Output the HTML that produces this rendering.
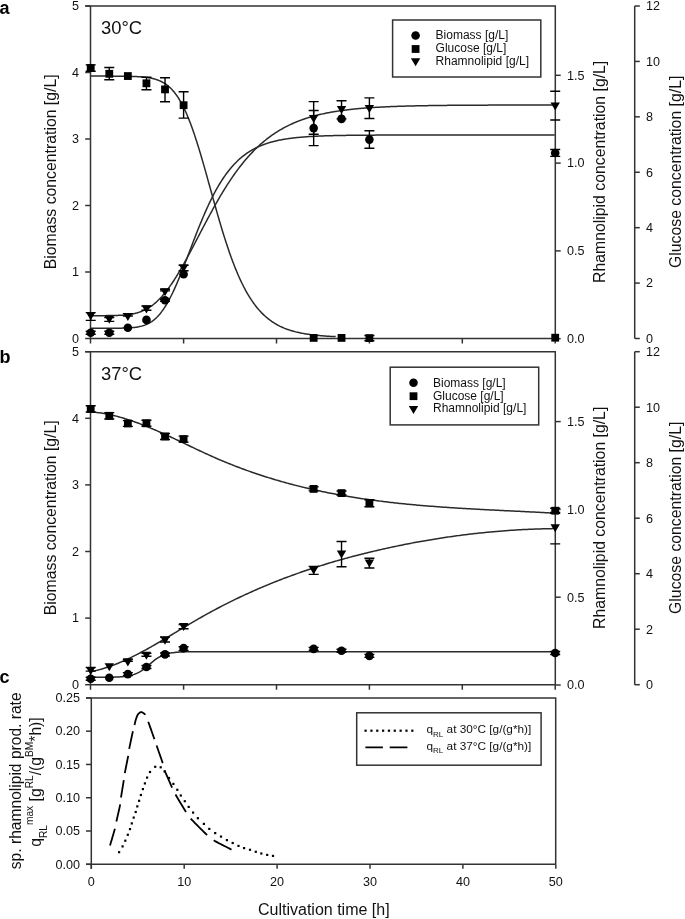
<!DOCTYPE html><html><head><meta charset="utf-8"><style>html,body{margin:0;padding:0;background:#fff;width:685px;height:919px;overflow:hidden}svg{display:block;filter:blur(0.35px)}</style></head><body><svg width="685" height="919" viewBox="0 0 685 919">
<rect width="685" height="919" fill="#fff"/>
<path d="M90.5,6 V343.5 M85.2,6 H555.3 V338.5 M90.5,338.5 H555.3" stroke="#333" stroke-width="1.5" fill="none"/>
<path d="M85.2,338.50 H90.5" stroke="#333" stroke-width="1.5"/>
<text x="79" y="342.80" text-anchor="end" font-size="12.6" font-family="'Liberation Sans', sans-serif" fill="#111">0</text>
<path d="M85.2,272.00 H90.5" stroke="#333" stroke-width="1.5"/>
<text x="79" y="276.30" text-anchor="end" font-size="12.6" font-family="'Liberation Sans', sans-serif" fill="#111">1</text>
<path d="M85.2,205.50 H90.5" stroke="#333" stroke-width="1.5"/>
<text x="79" y="209.80" text-anchor="end" font-size="12.6" font-family="'Liberation Sans', sans-serif" fill="#111">2</text>
<path d="M85.2,139.00 H90.5" stroke="#333" stroke-width="1.5"/>
<text x="79" y="143.30" text-anchor="end" font-size="12.6" font-family="'Liberation Sans', sans-serif" fill="#111">3</text>
<path d="M85.2,72.50 H90.5" stroke="#333" stroke-width="1.5"/>
<text x="79" y="76.80" text-anchor="end" font-size="12.6" font-family="'Liberation Sans', sans-serif" fill="#111">4</text>
<path d="M85.2,6.00 H90.5" stroke="#333" stroke-width="1.5"/>
<text x="79" y="10.30" text-anchor="end" font-size="12.6" font-family="'Liberation Sans', sans-serif" fill="#111">5</text>
<path d="M183.60,338.5 V343.5" stroke="#333" stroke-width="1.5"/>
<path d="M276.50,338.5 V343.5" stroke="#333" stroke-width="1.5"/>
<path d="M369.40,338.5 V343.5" stroke="#333" stroke-width="1.5"/>
<path d="M462.30,338.5 V343.5" stroke="#333" stroke-width="1.5"/>
<path d="M555.20,338.5 V343.5" stroke="#333" stroke-width="1.5"/>
<path d="M555.3,338.70 H560.7" stroke="#333" stroke-width="1.5"/>
<text x="567" y="343.00" font-size="12.6" font-family="'Liberation Sans', sans-serif" fill="#111">0.0</text>
<path d="M555.3,250.90 H560.7" stroke="#333" stroke-width="1.5"/>
<text x="567" y="255.20" font-size="12.6" font-family="'Liberation Sans', sans-serif" fill="#111">0.5</text>
<path d="M555.3,163.10 H560.7" stroke="#333" stroke-width="1.5"/>
<text x="567" y="167.40" font-size="12.6" font-family="'Liberation Sans', sans-serif" fill="#111">1.0</text>
<path d="M555.3,75.30 H560.7" stroke="#333" stroke-width="1.5"/>
<text x="567" y="79.60" font-size="12.6" font-family="'Liberation Sans', sans-serif" fill="#111">1.5</text>
<path d="M634.7,6 V338.5" stroke="#333" stroke-width="1.5"/>
<path d="M634.7,338.50 H639.8" stroke="#333" stroke-width="1.5"/>
<text x="646" y="342.80" font-size="12.6" font-family="'Liberation Sans', sans-serif" fill="#111">0</text>
<path d="M634.7,283.08 H639.8" stroke="#333" stroke-width="1.5"/>
<text x="646" y="287.38" font-size="12.6" font-family="'Liberation Sans', sans-serif" fill="#111">2</text>
<path d="M634.7,227.67 H639.8" stroke="#333" stroke-width="1.5"/>
<text x="646" y="231.97" font-size="12.6" font-family="'Liberation Sans', sans-serif" fill="#111">4</text>
<path d="M634.7,172.25 H639.8" stroke="#333" stroke-width="1.5"/>
<text x="646" y="176.55" font-size="12.6" font-family="'Liberation Sans', sans-serif" fill="#111">6</text>
<path d="M634.7,116.83 H639.8" stroke="#333" stroke-width="1.5"/>
<text x="646" y="121.13" font-size="12.6" font-family="'Liberation Sans', sans-serif" fill="#111">8</text>
<path d="M634.7,61.42 H639.8" stroke="#333" stroke-width="1.5"/>
<text x="646" y="65.72" font-size="12.6" font-family="'Liberation Sans', sans-serif" fill="#111">10</text>
<path d="M634.7,6.00 H639.8" stroke="#333" stroke-width="1.5"/>
<text x="646" y="10.30" font-size="12.6" font-family="'Liberation Sans', sans-serif" fill="#111">12</text>
<text transform="translate(56.3,171.85) rotate(-90)" text-anchor="middle" font-size="15.8" font-family="'Liberation Sans', sans-serif" fill="#111">Biomass concentration [g/L]</text>
<text transform="translate(605,171.85) rotate(-90)" text-anchor="middle" font-size="15.8" font-family="'Liberation Sans', sans-serif" fill="#111">Rhamnolipid concentration [g/L]</text>
<text transform="translate(681,171.85) rotate(-90)" text-anchor="middle" font-size="15.8" font-family="'Liberation Sans', sans-serif" fill="#111">Glucose concentration [g/L]</text>
<text x="101" y="33.80" font-size="18.4" font-family="'Liberation Sans', sans-serif" fill="#111">30°C</text>
<rect x="392.6" y="20" width="148.19999999999993" height="57" stroke="#333" stroke-width="1.5" fill="none"/>
<circle cx="415.60" cy="35.50" r="4.3" fill="#000"/>
<text x="435.6" y="39.20" font-size="12" font-family="'Liberation Sans', sans-serif" fill="#111">Biomass [g/L]</text>
<rect x="411.70" y="45.10" width="7.8" height="7.8" fill="#000"/>
<text x="435.6" y="52.00" font-size="12" font-family="'Liberation Sans', sans-serif" fill="#111">Glucose [g/L]</text>
<path d="M410.90,58.20 H420.30 L415.60,66.20 Z" fill="#000"/>
<text x="435.6" y="64.90" font-size="12" font-family="'Liberation Sans', sans-serif" fill="#111">Rhamnolipid [g/L]</text>
<text x="-0.5" y="13.5" font-size="18" font-weight="bold" font-family="'Liberation Sans', sans-serif" fill="#000">a</text>
<path d="M90.70,76.11 L91.70,76.11 L92.70,76.11 L93.70,76.11 L94.70,76.11 L95.70,76.11 L96.70,76.11 L97.70,76.11 L98.70,76.11 L99.70,76.11 L100.70,76.11 L101.70,76.11 L102.70,76.11 L103.70,76.12 L104.70,76.12 L105.70,76.12 L106.70,76.12 L107.70,76.12 L108.70,76.13 L109.70,76.13 L110.70,76.13 L111.70,76.13 L112.70,76.14 L113.70,76.14 L114.70,76.15 L115.70,76.15 L116.70,76.16 L117.70,76.16 L118.70,76.17 L119.70,76.18 L120.70,76.19 L121.70,76.20 L122.70,76.21 L123.70,76.22 L124.70,76.23 L125.70,76.25 L126.70,76.26 L127.70,76.28 L128.70,76.30 L129.70,76.33 L130.70,76.35 L131.70,76.38 L132.70,76.41 L133.70,76.45 L134.70,76.49 L135.70,76.53 L136.70,76.58 L137.70,76.63 L138.70,76.69 L139.70,76.75 L140.70,76.83 L141.70,76.91 L142.70,76.99 L143.70,77.09 L144.70,77.20 L145.70,77.32 L146.70,77.44 L147.70,77.59 L148.70,77.74 L149.70,77.92 L150.70,78.10 L151.70,78.31 L152.70,78.54 L153.70,78.79 L154.70,79.06 L155.70,79.35 L156.70,79.67 L157.70,80.03 L158.70,80.41 L159.70,80.82 L160.70,81.27 L161.70,81.76 L162.70,82.29 L163.70,82.86 L164.70,83.48 L165.70,84.15 L166.70,84.86 L167.70,85.63 L168.70,86.46 L169.70,87.35 L170.70,88.30 L171.70,89.32 L172.70,90.40 L173.70,91.56 L174.70,92.79 L175.70,94.09 L176.70,95.48 L177.70,96.94 L178.70,98.49 L179.70,100.13 L180.70,101.85 L181.70,103.66 L182.70,105.56 L183.70,107.55 L184.70,109.63 L185.70,111.80 L186.70,114.07 L187.70,116.43 L188.70,118.87 L189.70,121.41 L190.70,124.03 L191.70,126.74 L192.70,129.54 L193.70,132.41 L194.70,135.37 L195.70,138.39 L196.70,141.49 L197.70,144.66 L198.70,147.90 L199.70,151.19 L200.70,154.53 L201.70,157.93 L202.70,161.37 L203.70,164.85 L204.70,168.37 L205.70,171.92 L206.70,175.49 L207.70,179.08 L208.70,182.68 L209.70,186.29 L210.70,189.90 L211.70,193.51 L212.70,197.11 L213.70,200.70 L214.70,204.27 L215.70,207.82 L216.70,211.35 L217.70,214.84 L218.70,218.30 L219.70,221.72 L220.70,225.10 L221.70,228.44 L222.70,231.72 L223.70,234.96 L224.70,238.14 L225.70,241.27 L226.70,244.34 L227.70,247.35 L228.70,250.30 L229.70,253.18 L230.70,256.01 L231.70,258.76 L232.70,261.46 L233.70,264.09 L234.70,266.65 L235.70,269.14 L236.70,271.57 L237.70,273.94 L238.70,276.23 L239.70,278.46 L240.70,280.63 L241.70,282.73 L242.70,284.77 L243.70,286.75 L244.70,288.67 L245.70,290.52 L246.70,292.31 L247.70,294.05 L248.70,295.73 L249.70,297.35 L250.70,298.92 L251.70,300.43 L252.70,301.89 L253.70,303.30 L254.70,304.66 L255.70,305.97 L256.70,307.23 L257.70,308.45 L258.70,309.62 L259.70,310.75 L260.70,311.84 L261.70,312.89 L262.70,313.89 L263.70,314.86 L264.70,315.79 L265.70,316.69 L266.70,317.55 L267.70,318.38 L268.70,319.17 L269.70,319.94 L270.70,320.67 L271.70,321.38 L272.70,322.05 L273.70,322.70 L274.70,323.33 L275.70,323.92 L276.70,324.50 L277.70,325.05 L278.70,325.58 L279.70,326.09 L280.70,326.57 L281.70,327.04 L282.70,327.49 L283.70,327.91 L284.70,328.33 L285.70,328.72 L286.70,329.10 L287.70,329.46 L288.70,329.81 L289.70,330.14 L290.70,330.46 L291.70,330.76 L292.70,331.05 L293.70,331.33 L294.70,331.60 L295.70,331.86 L296.70,332.11 L297.70,332.34 L298.70,332.57 L299.70,332.78 L300.70,332.99 L301.70,333.19 L302.70,333.38 L303.70,333.56 L304.70,333.73 L305.70,333.90 L306.70,334.06 L307.70,334.21 L308.70,334.36 L309.70,334.50 L310.70,334.63 L311.70,334.76 L312.70,334.88 L313.70,335.00 L314.70,335.11 L315.70,335.22 L316.70,335.32 L317.70,335.42 L318.70,335.52 L319.70,335.61 L320.70,335.69 L321.70,335.78 L322.70,335.85 L323.70,335.93 L324.70,336.00 L325.70,336.07 L326.70,336.14 L327.70,336.20 L328.70,336.26 L329.70,336.32 L330.70,336.38 L331.70,336.43 L332.70,336.48 L333.70,336.53 L334.70,336.57 L335.70,336.62" stroke="#2a2a2a" stroke-width="1.5" fill="none"/>
<path d="M90.70,328.25 L91.70,328.25 L92.70,328.25 L93.70,328.25 L94.70,328.25 L95.70,328.25 L96.70,328.25 L97.70,328.25 L98.70,328.25 L99.70,328.25 L100.70,328.25 L101.70,328.24 L102.70,328.24 L103.70,328.24 L104.70,328.24 L105.70,328.24 L106.70,328.24 L107.70,328.24 L108.70,328.24 L109.70,328.23 L110.70,328.23 L111.70,328.23 L112.70,328.22 L113.70,328.22 L114.70,328.21 L115.70,328.21 L116.70,328.20 L117.70,328.19 L118.70,328.18 L119.70,328.17 L120.70,328.15 L121.70,328.14 L122.70,328.12 L123.70,328.09 L124.70,328.06 L125.70,328.03 L126.70,327.99 L127.70,327.95 L128.70,327.90 L129.70,327.84 L130.70,327.78 L131.70,327.70 L132.70,327.62 L133.70,327.52 L134.70,327.41 L135.70,327.28 L136.70,327.14 L137.70,326.98 L138.70,326.80 L139.70,326.59 L140.70,326.37 L141.70,326.11 L142.70,325.83 L143.70,325.52 L144.70,325.17 L145.70,324.79 L146.70,324.37 L147.70,323.90 L148.70,323.39 L149.70,322.84 L150.70,322.24 L151.70,321.58 L152.70,320.87 L153.70,320.10 L154.70,319.28 L155.70,318.39 L156.70,317.44 L157.70,316.42 L158.70,315.33 L159.70,314.18 L160.70,312.96 L161.70,311.66 L162.70,310.29 L163.70,308.85 L164.70,307.34 L165.70,305.76 L166.70,304.10 L167.70,302.37 L168.70,300.57 L169.70,298.71 L170.70,296.77 L171.70,294.77 L172.70,292.71 L173.70,290.58 L174.70,288.40 L175.70,286.17 L176.70,283.88 L177.70,281.54 L178.70,279.16 L179.70,276.73 L180.70,274.27 L181.70,271.77 L182.70,269.25 L183.70,266.69 L184.70,264.12 L185.70,261.52 L186.70,258.92 L187.70,256.30 L188.70,253.67 L189.70,251.04 L190.70,248.41 L191.70,245.79 L192.70,243.17 L193.70,240.56 L194.70,237.97 L195.70,235.39 L196.70,232.84 L197.70,230.30 L198.70,227.79 L199.70,225.31 L200.70,222.86 L201.70,220.44 L202.70,218.06 L203.70,215.71 L204.70,213.39 L205.70,211.12 L206.70,208.88 L207.70,206.69 L208.70,204.53 L209.70,202.42 L210.70,200.35 L211.70,198.33 L212.70,196.35 L213.70,194.41 L214.70,192.52 L215.70,190.68 L216.70,188.88 L217.70,187.12 L218.70,185.41 L219.70,183.74 L220.70,182.12 L221.70,180.54 L222.70,179.00 L223.70,177.51 L224.70,176.06 L225.70,174.65 L226.70,173.28 L227.70,171.96 L228.70,170.67 L229.70,169.42 L230.70,168.21 L231.70,167.03 L232.70,165.90 L233.70,164.80 L234.70,163.73 L235.70,162.70 L236.70,161.70 L237.70,160.73 L238.70,159.80 L239.70,158.90 L240.70,158.03 L241.70,157.18 L242.70,156.37 L243.70,155.58 L244.70,154.82 L245.70,154.09 L246.70,153.38 L247.70,152.70 L248.70,152.04 L249.70,151.40 L250.70,150.79 L251.70,150.20 L252.70,149.63 L253.70,149.08 L254.70,148.54 L255.70,148.03 L256.70,147.54 L257.70,147.07 L258.70,146.61 L259.70,146.17 L260.70,145.74 L261.70,145.33 L262.70,144.94 L263.70,144.56 L264.70,144.20 L265.70,143.84 L266.70,143.50 L267.70,143.18 L268.70,142.86 L269.70,142.56 L270.70,142.27 L271.70,141.99 L272.70,141.72 L273.70,141.46 L274.70,141.22 L275.70,140.98 L276.70,140.74 L277.70,140.52 L278.70,140.31 L279.70,140.10 L280.70,139.91 L281.70,139.72 L282.70,139.53 L283.70,139.36 L284.70,139.19 L285.70,139.03 L286.70,138.87 L287.70,138.72 L288.70,138.58 L289.70,138.44 L290.70,138.30 L291.70,138.18 L292.70,138.05 L293.70,137.93 L294.70,137.82 L295.70,137.71 L296.70,137.60 L297.70,137.50 L298.70,137.41 L299.70,137.31 L300.70,137.22 L301.70,137.14 L302.70,137.05 L303.70,136.97 L304.70,136.90 L305.70,136.82 L306.70,136.75 L307.70,136.68 L308.70,136.62 L309.70,136.56 L310.70,136.49 L311.70,136.44 L312.70,136.38 L313.70,136.33 L314.70,136.28 L315.70,136.23 L316.70,136.18 L317.70,136.13 L318.70,136.09 L319.70,136.05 L320.70,136.01 L321.70,135.97 L322.70,135.93 L323.70,135.89 L324.70,135.86 L325.70,135.83 L326.70,135.79 L327.70,135.76 L328.70,135.73 L329.70,135.71 L330.70,135.68 L331.70,135.65 L332.70,135.63 L333.70,135.60 L334.70,135.58 L335.70,135.56 L336.70,135.54 L337.70,135.52 L338.70,135.50 L339.70,135.48 L340.70,135.46 L341.70,135.44 L342.70,135.42 L343.70,135.41 L344.70,135.39 L345.70,135.38 L346.70,135.36 L347.70,135.35 L348.70,135.34 L349.70,135.32 L350.70,135.31 L351.70,135.30 L352.70,135.29 L353.70,135.28 L354.70,135.27 L355.70,135.26 L356.70,135.25 L357.70,135.24 L358.70,135.23 L359.70,135.22 L360.70,135.21 L361.70,135.20 L362.70,135.20 L363.70,135.19 L364.70,135.18 L365.70,135.18 L366.70,135.17 L367.70,135.16 L368.70,135.16 L369.70,135.15 L370.70,135.15 L371.70,135.14 L372.70,135.14 L373.70,135.13 L374.70,135.13 L375.70,135.12 L376.70,135.12 L377.70,135.11 L378.70,135.11 L379.70,135.11 L380.70,135.10 L381.70,135.10 L382.70,135.10 L383.70,135.09 L384.70,135.09 L385.70,135.09 L386.70,135.08 L387.70,135.08 L388.70,135.08 L389.70,135.07 L390.70,135.07 L391.70,135.07 L392.70,135.07 L393.70,135.07 L394.70,135.06 L395.70,135.06 L396.70,135.06 L397.70,135.06 L398.70,135.06 L399.70,135.05 L400.70,135.05 L401.70,135.05 L402.70,135.05 L403.70,135.05 L404.70,135.05 L405.70,135.05 L406.70,135.04 L407.70,135.04 L408.70,135.04 L409.70,135.04 L410.70,135.04 L411.70,135.04 L412.70,135.04 L413.70,135.04 L414.70,135.04 L415.70,135.03 L416.70,135.03 L417.70,135.03 L418.70,135.03 L419.70,135.03 L420.70,135.03 L421.70,135.03 L422.70,135.03 L423.70,135.03 L424.70,135.03 L425.70,135.03 L426.70,135.03 L427.70,135.03 L428.70,135.03 L429.70,135.03 L430.70,135.02 L431.70,135.02 L432.70,135.02 L433.70,135.02 L434.70,135.02 L435.70,135.02 L436.70,135.02 L437.70,135.02 L438.70,135.02 L439.70,135.02 L440.70,135.02 L441.70,135.02 L442.70,135.02 L443.70,135.02 L444.70,135.02 L445.70,135.02 L446.70,135.02 L447.70,135.02 L448.70,135.02 L449.70,135.02 L450.70,135.02 L451.70,135.02 L452.70,135.02 L453.70,135.02 L454.70,135.02 L455.70,135.02 L456.70,135.02 L457.70,135.02 L458.70,135.02 L459.70,135.02 L460.70,135.02 L461.70,135.02 L462.70,135.02 L463.70,135.02 L464.70,135.02 L465.70,135.02 L466.70,135.02 L467.70,135.02 L468.70,135.02 L469.70,135.02 L470.70,135.01 L471.70,135.01 L472.70,135.01 L473.70,135.01 L474.70,135.01 L475.70,135.01 L476.70,135.01 L477.70,135.01 L478.70,135.01 L479.70,135.01 L480.70,135.01 L481.70,135.01 L482.70,135.01 L483.70,135.01 L484.70,135.01 L485.70,135.01 L486.70,135.01 L487.70,135.01 L488.70,135.01 L489.70,135.01 L490.70,135.01 L491.70,135.01 L492.70,135.01 L493.70,135.01 L494.70,135.01 L495.70,135.01 L496.70,135.01 L497.70,135.01 L498.70,135.01 L499.70,135.01 L500.70,135.01 L501.70,135.01 L502.70,135.01 L503.70,135.01 L504.70,135.01 L505.70,135.01 L506.70,135.01 L507.70,135.01 L508.70,135.01 L509.70,135.01 L510.70,135.01 L511.70,135.01 L512.70,135.01 L513.70,135.01 L514.70,135.01 L515.70,135.01 L516.70,135.01 L517.70,135.01 L518.70,135.01 L519.70,135.01 L520.70,135.01 L521.70,135.01 L522.70,135.01 L523.70,135.01 L524.70,135.01 L525.70,135.01 L526.70,135.01 L527.70,135.01 L528.70,135.01 L529.70,135.01 L530.70,135.01 L531.70,135.01 L532.70,135.01 L533.70,135.01 L534.70,135.01 L535.70,135.01 L536.70,135.01 L537.70,135.01 L538.70,135.01 L539.70,135.01 L540.70,135.01 L541.70,135.01 L542.70,135.01 L543.70,135.01 L544.70,135.01 L545.70,135.01 L546.70,135.01 L547.70,135.01 L548.70,135.01 L549.70,135.01 L550.70,135.01 L551.70,135.01 L552.70,135.01 L553.70,135.01 L554.70,135.01" stroke="#2a2a2a" stroke-width="1.5" fill="none"/>
<path d="M90.70,315.66 L91.70,315.66 L92.70,315.66 L93.70,315.66 L94.70,315.66 L95.70,315.66 L96.70,315.65 L97.70,315.65 L98.70,315.65 L99.70,315.65 L100.70,315.65 L101.70,315.64 L102.70,315.64 L103.70,315.64 L104.70,315.63 L105.70,315.63 L106.70,315.62 L107.70,315.61 L108.70,315.60 L109.70,315.59 L110.70,315.58 L111.70,315.56 L112.70,315.55 L113.70,315.53 L114.70,315.50 L115.70,315.47 L116.70,315.44 L117.70,315.41 L118.70,315.37 L119.70,315.32 L120.70,315.27 L121.70,315.21 L122.70,315.15 L123.70,315.07 L124.70,314.99 L125.70,314.90 L126.70,314.79 L127.70,314.68 L128.70,314.55 L129.70,314.41 L130.70,314.25 L131.70,314.08 L132.70,313.90 L133.70,313.69 L134.70,313.47 L135.70,313.23 L136.70,312.97 L137.70,312.68 L138.70,312.37 L139.70,312.04 L140.70,311.68 L141.70,311.30 L142.70,310.88 L143.70,310.44 L144.70,309.97 L145.70,309.47 L146.70,308.94 L147.70,308.37 L148.70,307.77 L149.70,307.14 L150.70,306.47 L151.70,305.77 L152.70,305.03 L153.70,304.25 L154.70,303.43 L155.70,302.58 L156.70,301.69 L157.70,300.76 L158.70,299.79 L159.70,298.78 L160.70,297.73 L161.70,296.65 L162.70,295.52 L163.70,294.36 L164.70,293.16 L165.70,291.92 L166.70,290.64 L167.70,289.33 L168.70,287.98 L169.70,286.60 L170.70,285.18 L171.70,283.73 L172.70,282.24 L173.70,280.72 L174.70,279.17 L175.70,277.59 L176.70,275.99 L177.70,274.35 L178.70,272.69 L179.70,271.00 L180.70,269.29 L181.70,267.55 L182.70,265.80 L183.70,264.02 L184.70,262.23 L185.70,260.41 L186.70,258.58 L187.70,256.74 L188.70,254.88 L189.70,253.01 L190.70,251.13 L191.70,249.24 L192.70,247.34 L193.70,245.43 L194.70,243.52 L195.70,241.61 L196.70,239.69 L197.70,237.77 L198.70,235.85 L199.70,233.93 L200.70,232.01 L201.70,230.09 L202.70,228.18 L203.70,226.27 L204.70,224.37 L205.70,222.48 L206.70,220.59 L207.70,218.71 L208.70,216.85 L209.70,214.99 L210.70,213.14 L211.70,211.31 L212.70,209.49 L213.70,207.68 L214.70,205.89 L215.70,204.11 L216.70,202.35 L217.70,200.61 L218.70,198.88 L219.70,197.17 L220.70,195.47 L221.70,193.80 L222.70,192.14 L223.70,190.50 L224.70,188.88 L225.70,187.28 L226.70,185.70 L227.70,184.14 L228.70,182.60 L229.70,181.08 L230.70,179.58 L231.70,178.10 L232.70,176.64 L233.70,175.20 L234.70,173.79 L235.70,172.39 L236.70,171.02 L237.70,169.67 L238.70,168.33 L239.70,167.02 L240.70,165.73 L241.70,164.46 L242.70,163.22 L243.70,161.99 L244.70,160.78 L245.70,159.60 L246.70,158.43 L247.70,157.29 L248.70,156.16 L249.70,155.06 L250.70,153.97 L251.70,152.91 L252.70,151.86 L253.70,150.84 L254.70,149.83 L255.70,148.84 L256.70,147.87 L257.70,146.92 L258.70,145.99 L259.70,145.08 L260.70,144.18 L261.70,143.30 L262.70,142.44 L263.70,141.59 L264.70,140.77 L265.70,139.96 L266.70,139.16 L267.70,138.38 L268.70,137.62 L269.70,136.88 L270.70,136.15 L271.70,135.43 L272.70,134.73 L273.70,134.04 L274.70,133.37 L275.70,132.72 L276.70,132.07 L277.70,131.44 L278.70,130.83 L279.70,130.23 L280.70,129.64 L281.70,129.06 L282.70,128.50 L283.70,127.94 L284.70,127.40 L285.70,126.88 L286.70,126.36 L287.70,125.86 L288.70,125.36 L289.70,124.88 L290.70,124.41 L291.70,123.95 L292.70,123.50 L293.70,123.06 L294.70,122.63 L295.70,122.21 L296.70,121.80 L297.70,121.39 L298.70,121.00 L299.70,120.62 L300.70,120.24 L301.70,119.88 L302.70,119.52 L303.70,119.17 L304.70,118.83 L305.70,118.50 L306.70,118.17 L307.70,117.85 L308.70,117.54 L309.70,117.24 L310.70,116.94 L311.70,116.65 L312.70,116.37 L313.70,116.09 L314.70,115.83 L315.70,115.56 L316.70,115.31 L317.70,115.05 L318.70,114.81 L319.70,114.57 L320.70,114.34 L321.70,114.11 L322.70,113.89 L323.70,113.67 L324.70,113.46 L325.70,113.25 L326.70,113.05 L327.70,112.85 L328.70,112.66 L329.70,112.47 L330.70,112.29 L331.70,112.11 L332.70,111.94 L333.70,111.77 L334.70,111.60 L335.70,111.44 L336.70,111.28 L337.70,111.12 L338.70,110.97 L339.70,110.83 L340.70,110.68 L341.70,110.54 L342.70,110.41 L343.70,110.27 L344.70,110.14 L345.70,110.02 L346.70,109.89 L347.70,109.77 L348.70,109.65 L349.70,109.54 L350.70,109.43 L351.70,109.32 L352.70,109.21 L353.70,109.11 L354.70,109.00 L355.70,108.90 L356.70,108.81 L357.70,108.71 L358.70,108.62 L359.70,108.53 L360.70,108.44 L361.70,108.36 L362.70,108.27 L363.70,108.19 L364.70,108.11 L365.70,108.04 L366.70,107.96 L367.70,107.89 L368.70,107.82 L369.70,107.75 L370.70,107.68 L371.70,107.61 L372.70,107.55 L373.70,107.48 L374.70,107.42 L375.70,107.36 L376.70,107.30 L377.70,107.24 L378.70,107.19 L379.70,107.13 L380.70,107.08 L381.70,107.03 L382.70,106.98 L383.70,106.93 L384.70,106.88 L385.70,106.83 L386.70,106.79 L387.70,106.74 L388.70,106.70 L389.70,106.66 L390.70,106.61 L391.70,106.57 L392.70,106.53 L393.70,106.50 L394.70,106.46 L395.70,106.42 L396.70,106.39 L397.70,106.35 L398.70,106.32 L399.70,106.28 L400.70,106.25 L401.70,106.22 L402.70,106.19 L403.70,106.16 L404.70,106.13 L405.70,106.10 L406.70,106.07 L407.70,106.05 L408.70,106.02 L409.70,105.99 L410.70,105.97 L411.70,105.95 L412.70,105.92 L413.70,105.90 L414.70,105.88 L415.70,105.85 L416.70,105.83 L417.70,105.81 L418.70,105.79 L419.70,105.77 L420.70,105.75 L421.70,105.73 L422.70,105.71 L423.70,105.69 L424.70,105.68 L425.70,105.66 L426.70,105.64 L427.70,105.63 L428.70,105.61 L429.70,105.59 L430.70,105.58 L431.70,105.56 L432.70,105.55 L433.70,105.54 L434.70,105.52 L435.70,105.51 L436.70,105.50 L437.70,105.48 L438.70,105.47 L439.70,105.46 L440.70,105.45 L441.70,105.44 L442.70,105.42 L443.70,105.41 L444.70,105.40 L445.70,105.39 L446.70,105.38 L447.70,105.37 L448.70,105.36 L449.70,105.35 L450.70,105.34 L451.70,105.33 L452.70,105.33 L453.70,105.32 L454.70,105.31 L455.70,105.30 L456.70,105.29 L457.70,105.29 L458.70,105.28 L459.70,105.27 L460.70,105.26 L461.70,105.26 L462.70,105.25 L463.70,105.24 L464.70,105.24 L465.70,105.23 L466.70,105.22 L467.70,105.22 L468.70,105.21 L469.70,105.21 L470.70,105.20 L471.70,105.20 L472.70,105.19 L473.70,105.19 L474.70,105.18 L475.70,105.18 L476.70,105.17 L477.70,105.17 L478.70,105.16 L479.70,105.16 L480.70,105.15 L481.70,105.15 L482.70,105.14 L483.70,105.14 L484.70,105.14 L485.70,105.13 L486.70,105.13 L487.70,105.13 L488.70,105.12 L489.70,105.12 L490.70,105.12 L491.70,105.11 L492.70,105.11 L493.70,105.11 L494.70,105.10 L495.70,105.10 L496.70,105.10 L497.70,105.09 L498.70,105.09 L499.70,105.09 L500.70,105.09 L501.70,105.08 L502.70,105.08 L503.70,105.08 L504.70,105.08 L505.70,105.07 L506.70,105.07 L507.70,105.07 L508.70,105.07 L509.70,105.07 L510.70,105.06 L511.70,105.06 L512.70,105.06 L513.70,105.06 L514.70,105.06 L515.70,105.05 L516.70,105.05 L517.70,105.05 L518.70,105.05 L519.70,105.05 L520.70,105.05 L521.70,105.04 L522.70,105.04 L523.70,105.04 L524.70,105.04 L525.70,105.04 L526.70,105.04 L527.70,105.04 L528.70,105.03 L529.70,105.03 L530.70,105.03 L531.70,105.03 L532.70,105.03 L533.70,105.03 L534.70,105.03 L535.70,105.03 L536.70,105.03 L537.70,105.02 L538.70,105.02 L539.70,105.02 L540.70,105.02 L541.70,105.02 L542.70,105.02 L543.70,105.02 L544.70,105.02 L545.70,105.02 L546.70,105.02 L547.70,105.02 L548.70,105.01 L549.70,105.01 L550.70,105.01 L551.70,105.01 L552.70,105.01 L553.70,105.01 L554.70,105.01" stroke="#2a2a2a" stroke-width="1.5" fill="none"/>
<path d="M90.70,64.90 V71.30 M85.70,64.90 H95.70 M85.70,71.30 H95.70" stroke="#000" stroke-width="1.4" fill="none"/>
<rect x="86.80" y="64.15" width="7.8" height="7.8" fill="#000"/>
<path d="M109.28,67.50 V79.80 M104.28,67.50 H114.28 M104.28,79.80 H114.28" stroke="#000" stroke-width="1.4" fill="none"/>
<rect x="105.38" y="69.90" width="7.8" height="7.8" fill="#000"/>
<rect x="123.96" y="72.15" width="7.8" height="7.8" fill="#000"/>
<path d="M146.44,77.20 V89.80 M141.44,77.20 H151.44 M141.44,89.80 H151.44" stroke="#000" stroke-width="1.4" fill="none"/>
<rect x="142.54" y="79.40" width="7.8" height="7.8" fill="#000"/>
<path d="M165.02,77.70 V101.70 M160.02,77.70 H170.02 M160.02,101.70 H170.02" stroke="#000" stroke-width="1.4" fill="none"/>
<rect x="161.12" y="85.50" width="7.8" height="7.8" fill="#000"/>
<path d="M183.60,91.80 V118.10 M178.60,91.80 H188.60 M178.60,118.10 H188.60" stroke="#000" stroke-width="1.4" fill="none"/>
<rect x="179.70" y="101.30" width="7.8" height="7.8" fill="#000"/>
<rect x="309.76" y="334.00" width="7.8" height="7.8" fill="#000"/>
<rect x="337.63" y="334.00" width="7.8" height="7.8" fill="#000"/>
<path d="M369.40,335.50 V340.70 M364.40,335.50 H374.40 M364.40,340.70 H374.40" stroke="#000" stroke-width="1.4" fill="none"/>
<rect x="365.50" y="334.20" width="7.8" height="7.8" fill="#000"/>
<rect x="551.30" y="333.80" width="7.8" height="7.8" fill="#000"/>
<path d="M90.70,331.30 V334.30 M85.70,331.30 H95.70 M85.70,334.30 H95.70" stroke="#000" stroke-width="1.4" fill="none"/>
<circle cx="90.70" cy="332.80" r="4.3" fill="#000"/>
<path d="M109.28,331.30 V334.30 M104.28,331.30 H114.28 M104.28,334.30 H114.28" stroke="#000" stroke-width="1.4" fill="none"/>
<circle cx="109.28" cy="332.80" r="4.3" fill="#000"/>
<circle cx="127.86" cy="327.70" r="4.3" fill="#000"/>
<circle cx="146.44" cy="319.90" r="4.3" fill="#000"/>
<path d="M165.02,299.20 V301.20 M160.02,299.20 H170.02 M160.02,301.20 H170.02" stroke="#000" stroke-width="1.4" fill="none"/>
<circle cx="165.02" cy="300.20" r="4.3" fill="#000"/>
<circle cx="183.60" cy="274.20" r="4.3" fill="#000"/>
<path d="M313.66,110.50 V145.60 M308.66,110.50 H318.66 M308.66,145.60 H318.66" stroke="#000" stroke-width="1.4" fill="none"/>
<circle cx="313.66" cy="128.10" r="4.3" fill="#000"/>
<circle cx="341.53" cy="118.90" r="4.3" fill="#000"/>
<path d="M369.40,130.80 V148.30 M364.40,130.80 H374.40 M364.40,148.30 H374.40" stroke="#000" stroke-width="1.4" fill="none"/>
<circle cx="369.40" cy="139.60" r="4.3" fill="#000"/>
<path d=" M550.20,149.50 H560.20 M550.20,156.40 H560.20" stroke="#000" stroke-width="1.4" fill="none"/>
<circle cx="555.20" cy="153.00" r="4.3" fill="#000"/>
<path d="M90.70,312.60 V320.40 M85.70,312.60 H95.70 M85.70,320.40 H95.70" stroke="#000" stroke-width="1.4" fill="none"/>
<path d="M86.00,312.15 H95.40 L90.70,320.15 Z" fill="#000"/>
<path d="M109.28,317.50 V321.40 M104.28,317.50 H114.28 M104.28,321.40 H114.28" stroke="#000" stroke-width="1.4" fill="none"/>
<path d="M104.58,315.70 H113.98 L109.28,323.70 Z" fill="#000"/>
<path d="M127.86,313.60 V316.00 M122.86,313.60 H132.86 M122.86,316.00 H132.86" stroke="#000" stroke-width="1.4" fill="none"/>
<path d="M123.16,313.10 H132.56 L127.86,321.10 Z" fill="#000"/>
<path d="M146.44,306.00 V310.30 M141.44,306.00 H151.44 M141.44,310.30 H151.44" stroke="#000" stroke-width="1.4" fill="none"/>
<path d="M141.74,305.55 H151.14 L146.44,313.55 Z" fill="#000"/>
<path d="M165.02,289.20 V290.90 M160.02,289.20 H170.02 M160.02,290.90 H170.02" stroke="#000" stroke-width="1.4" fill="none"/>
<path d="M160.32,288.20 H169.72 L165.02,296.20 Z" fill="#000"/>
<path d="M183.60,265.20 V270.70 M178.60,265.20 H188.60 M178.60,270.70 H188.60" stroke="#000" stroke-width="1.4" fill="none"/>
<path d="M178.90,264.50 H188.30 L183.60,272.50 Z" fill="#000"/>
<path d="M313.66,101.60 V134.30 M308.66,101.60 H318.66 M308.66,134.30 H318.66" stroke="#000" stroke-width="1.4" fill="none"/>
<path d="M308.96,115.10 H318.36 L313.66,123.10 Z" fill="#000"/>
<path d="M341.53,100.70 V118.90 M336.53,100.70 H346.53 M336.53,118.90 H346.53" stroke="#000" stroke-width="1.4" fill="none"/>
<path d="M336.83,105.90 H346.23 L341.53,113.90 Z" fill="#000"/>
<path d="M369.40,97.90 V118.50 M364.40,97.90 H374.40 M364.40,118.50 H374.40" stroke="#000" stroke-width="1.4" fill="none"/>
<path d="M364.70,105.00 H374.10 L369.40,113.00 Z" fill="#000"/>
<path d=" M550.20,91.30 H560.20 M550.20,120.00 H560.20" stroke="#000" stroke-width="1.4" fill="none"/>
<path d="M550.50,102.50 H559.90 L555.20,110.50 Z" fill="#000"/>
<path d="M90.5,351.7 V689.7 M85.2,351.7 H555.3 V684.7 M90.5,684.7 H555.3" stroke="#333" stroke-width="1.5" fill="none"/>
<path d="M85.2,684.70 H90.5" stroke="#333" stroke-width="1.5"/>
<text x="79" y="689.00" text-anchor="end" font-size="12.6" font-family="'Liberation Sans', sans-serif" fill="#111">0</text>
<path d="M85.2,618.10 H90.5" stroke="#333" stroke-width="1.5"/>
<text x="79" y="622.40" text-anchor="end" font-size="12.6" font-family="'Liberation Sans', sans-serif" fill="#111">1</text>
<path d="M85.2,551.50 H90.5" stroke="#333" stroke-width="1.5"/>
<text x="79" y="555.80" text-anchor="end" font-size="12.6" font-family="'Liberation Sans', sans-serif" fill="#111">2</text>
<path d="M85.2,484.90 H90.5" stroke="#333" stroke-width="1.5"/>
<text x="79" y="489.20" text-anchor="end" font-size="12.6" font-family="'Liberation Sans', sans-serif" fill="#111">3</text>
<path d="M85.2,418.30 H90.5" stroke="#333" stroke-width="1.5"/>
<text x="79" y="422.60" text-anchor="end" font-size="12.6" font-family="'Liberation Sans', sans-serif" fill="#111">4</text>
<path d="M85.2,351.70 H90.5" stroke="#333" stroke-width="1.5"/>
<text x="79" y="356.00" text-anchor="end" font-size="12.6" font-family="'Liberation Sans', sans-serif" fill="#111">5</text>
<path d="M183.60,684.7 V689.7" stroke="#333" stroke-width="1.5"/>
<path d="M276.50,684.7 V689.7" stroke="#333" stroke-width="1.5"/>
<path d="M369.40,684.7 V689.7" stroke="#333" stroke-width="1.5"/>
<path d="M462.30,684.7 V689.7" stroke="#333" stroke-width="1.5"/>
<path d="M555.20,684.7 V689.7" stroke="#333" stroke-width="1.5"/>
<path d="M555.3,685.00 H560.7" stroke="#333" stroke-width="1.5"/>
<text x="567" y="689.30" font-size="12.6" font-family="'Liberation Sans', sans-serif" fill="#111">0.0</text>
<path d="M555.3,597.20 H560.7" stroke="#333" stroke-width="1.5"/>
<text x="567" y="601.50" font-size="12.6" font-family="'Liberation Sans', sans-serif" fill="#111">0.5</text>
<path d="M555.3,509.40 H560.7" stroke="#333" stroke-width="1.5"/>
<text x="567" y="513.70" font-size="12.6" font-family="'Liberation Sans', sans-serif" fill="#111">1.0</text>
<path d="M555.3,421.60 H560.7" stroke="#333" stroke-width="1.5"/>
<text x="567" y="425.90" font-size="12.6" font-family="'Liberation Sans', sans-serif" fill="#111">1.5</text>
<path d="M634.7,351.7 V684.7" stroke="#333" stroke-width="1.5"/>
<path d="M634.7,684.70 H639.8" stroke="#333" stroke-width="1.5"/>
<text x="646" y="689.00" font-size="12.6" font-family="'Liberation Sans', sans-serif" fill="#111">0</text>
<path d="M634.7,629.20 H639.8" stroke="#333" stroke-width="1.5"/>
<text x="646" y="633.50" font-size="12.6" font-family="'Liberation Sans', sans-serif" fill="#111">2</text>
<path d="M634.7,573.70 H639.8" stroke="#333" stroke-width="1.5"/>
<text x="646" y="578.00" font-size="12.6" font-family="'Liberation Sans', sans-serif" fill="#111">4</text>
<path d="M634.7,518.20 H639.8" stroke="#333" stroke-width="1.5"/>
<text x="646" y="522.50" font-size="12.6" font-family="'Liberation Sans', sans-serif" fill="#111">6</text>
<path d="M634.7,462.70 H639.8" stroke="#333" stroke-width="1.5"/>
<text x="646" y="467.00" font-size="12.6" font-family="'Liberation Sans', sans-serif" fill="#111">8</text>
<path d="M634.7,407.20 H639.8" stroke="#333" stroke-width="1.5"/>
<text x="646" y="411.50" font-size="12.6" font-family="'Liberation Sans', sans-serif" fill="#111">10</text>
<path d="M634.7,351.70 H639.8" stroke="#333" stroke-width="1.5"/>
<text x="646" y="356.00" font-size="12.6" font-family="'Liberation Sans', sans-serif" fill="#111">12</text>
<text transform="translate(56.3,517.80) rotate(-90)" text-anchor="middle" font-size="15.8" font-family="'Liberation Sans', sans-serif" fill="#111">Biomass concentration [g/L]</text>
<text transform="translate(605,517.80) rotate(-90)" text-anchor="middle" font-size="15.8" font-family="'Liberation Sans', sans-serif" fill="#111">Rhamnolipid concentration [g/L]</text>
<text transform="translate(681,517.80) rotate(-90)" text-anchor="middle" font-size="15.8" font-family="'Liberation Sans', sans-serif" fill="#111">Glucose concentration [g/L]</text>
<text x="101" y="379.50" font-size="18.4" font-family="'Liberation Sans', sans-serif" fill="#111">37°C</text>
<rect x="390.2" y="367.2" width="148.50000000000006" height="57.69999999999999" stroke="#333" stroke-width="1.5" fill="none"/>
<circle cx="413.50" cy="382.80" r="4.3" fill="#000"/>
<text x="433.0" y="386.80" font-size="12" font-family="'Liberation Sans', sans-serif" fill="#111">Biomass [g/L]</text>
<rect x="409.60" y="392.30" width="7.8" height="7.8" fill="#000"/>
<text x="433.0" y="399.60" font-size="12" font-family="'Liberation Sans', sans-serif" fill="#111">Glucose [g/L]</text>
<path d="M408.80,406.00 H418.20 L413.50,414.00 Z" fill="#000"/>
<text x="433.0" y="412.40" font-size="12" font-family="'Liberation Sans', sans-serif" fill="#111">Rhamnolipid [g/L]</text>
<text x="-0.5" y="363.2" font-size="18" font-weight="bold" font-family="'Liberation Sans', sans-serif" fill="#000">b</text>
<path d="M90.70,411.93 L92.20,412.04 L93.70,412.17 L95.20,412.31 L96.70,412.48 L98.20,412.66 L99.70,412.86 L101.20,413.07 L102.70,413.31 L104.20,413.56 L105.70,413.83 L107.20,414.11 L108.70,414.41 L110.20,414.73 L111.70,415.06 L113.20,415.41 L114.70,415.77 L116.20,416.14 L117.70,416.53 L119.20,416.94 L120.70,417.36 L122.20,417.79 L123.70,418.23 L125.20,418.69 L126.70,419.16 L128.20,419.64 L129.70,420.13 L131.20,420.63 L132.70,421.15 L134.20,421.68 L135.70,422.21 L137.20,422.76 L138.70,423.32 L140.20,423.89 L141.70,424.46 L143.20,425.05 L144.70,425.64 L146.20,426.24 L147.70,426.85 L149.20,427.47 L150.70,428.10 L152.20,428.73 L153.70,429.37 L155.20,430.02 L156.70,430.67 L158.20,431.33 L159.70,431.99 L161.20,432.66 L162.70,433.34 L164.20,434.02 L165.70,434.70 L167.20,435.39 L168.70,436.08 L170.20,436.78 L171.70,437.48 L173.20,438.18 L174.70,438.88 L176.20,439.59 L177.70,440.30 L179.20,441.01 L180.70,441.72 L182.20,442.44 L183.70,443.15 L185.20,443.86 L186.70,444.58 L188.20,445.29 L189.70,446.01 L191.20,446.72 L192.70,447.43 L194.20,448.14 L195.70,448.85 L197.20,449.56 L198.70,450.26 L200.20,450.97 L201.70,451.67 L203.20,452.36 L204.70,453.06 L206.20,453.75 L207.70,454.43 L209.20,455.11 L210.70,455.79 L212.20,456.46 L213.70,457.12 L215.20,457.78 L216.70,458.44 L218.20,459.09 L219.70,459.73 L221.20,460.37 L222.70,461.00 L224.20,461.62 L225.70,462.24 L227.20,462.86 L228.70,463.47 L230.20,464.07 L231.70,464.67 L233.20,465.26 L234.70,465.84 L236.20,466.43 L237.70,467.00 L239.20,467.57 L240.70,468.14 L242.20,468.69 L243.70,469.25 L245.20,469.80 L246.70,470.34 L248.20,470.88 L249.70,471.41 L251.20,471.94 L252.70,472.46 L254.20,472.98 L255.70,473.49 L257.20,474.00 L258.70,474.50 L260.20,475.00 L261.70,475.49 L263.20,475.98 L264.70,476.46 L266.20,476.93 L267.70,477.41 L269.20,477.87 L270.70,478.34 L272.20,478.80 L273.70,479.25 L275.20,479.70 L276.70,480.14 L278.20,480.58 L279.70,481.01 L281.20,481.44 L282.70,481.87 L284.20,482.29 L285.70,482.71 L287.20,483.12 L288.70,483.53 L290.20,483.93 L291.70,484.33 L293.20,484.72 L294.70,485.11 L296.20,485.50 L297.70,485.88 L299.20,486.26 L300.70,486.63 L302.20,487.00 L303.70,487.36 L305.20,487.72 L306.70,488.08 L308.20,488.43 L309.70,488.78 L311.20,489.12 L312.70,489.46 L314.20,489.80 L315.70,490.13 L317.20,490.46 L318.70,490.78 L320.20,491.10 L321.70,491.42 L323.20,491.73 L324.70,492.04 L326.20,492.35 L327.70,492.65 L329.20,492.95 L330.70,493.24 L332.20,493.53 L333.70,493.82 L335.20,494.11 L336.70,494.39 L338.20,494.66 L339.70,494.94 L341.20,495.21 L342.70,495.47 L344.20,495.74 L345.70,496.00 L347.20,496.25 L348.70,496.51 L350.20,496.76 L351.70,497.00 L353.20,497.25 L354.70,497.49 L356.20,497.73 L357.70,497.96 L359.20,498.19 L360.70,498.42 L362.20,498.64 L363.70,498.87 L365.20,499.09 L366.70,499.30 L368.20,499.52 L369.70,499.73 L371.20,499.93 L372.70,500.14 L374.20,500.34 L375.70,500.54 L377.20,500.74 L378.70,500.93 L380.20,501.12 L381.70,501.31 L383.20,501.50 L384.70,501.68 L386.20,501.86 L387.70,502.04 L389.20,502.22 L390.70,502.39 L392.20,502.56 L393.70,502.73 L395.20,502.90 L396.70,503.06 L398.20,503.22 L399.70,503.38 L401.20,503.54 L402.70,503.69 L404.20,503.85 L405.70,504.00 L407.20,504.14 L408.70,504.29 L410.20,504.44 L411.70,504.58 L413.20,504.72 L414.70,504.86 L416.20,504.99 L417.70,505.13 L419.20,505.26 L420.70,505.39 L422.20,505.52 L423.70,505.65 L425.20,505.77 L426.70,505.90 L428.20,506.02 L429.70,506.14 L431.20,506.26 L432.70,506.37 L434.20,506.49 L435.70,506.60 L437.20,506.71 L438.70,506.82 L440.20,506.93 L441.70,507.04 L443.20,507.15 L444.70,507.25 L446.20,507.35 L447.70,507.46 L449.20,507.56 L450.70,507.66 L452.20,507.76 L453.70,507.85 L455.20,507.95 L456.70,508.04 L458.20,508.14 L459.70,508.23 L461.20,508.32 L462.70,508.41 L464.20,508.50 L465.70,508.59 L467.20,508.68 L468.70,508.76 L470.20,508.85 L471.70,508.93 L473.20,509.02 L474.70,509.10 L476.20,509.18 L477.70,509.26 L479.20,509.35 L480.70,509.43 L482.20,509.51 L483.70,509.58 L485.20,509.66 L486.70,509.74 L488.20,509.82 L489.70,509.89 L491.20,509.97 L492.70,510.05 L494.20,510.12 L495.70,510.20 L497.20,510.27 L498.70,510.35 L500.20,510.42 L501.70,510.49 L503.20,510.57 L504.70,510.64 L506.20,510.71 L507.70,510.79 L509.20,510.86 L510.70,510.93 L512.20,511.00 L513.70,511.08 L515.20,511.15 L516.70,511.22 L518.20,511.29 L519.70,511.37 L521.20,511.44 L522.70,511.51 L524.20,511.59 L525.70,511.66 L527.20,511.73 L528.70,511.81 L530.20,511.88 L531.70,511.95 L533.20,512.03 L534.70,512.10 L536.20,512.18 L537.70,512.26 L539.20,512.33 L540.70,512.41 L542.20,512.49 L543.70,512.56 L545.20,512.64 L546.70,512.72 L548.20,512.80 L549.70,512.88 L551.20,512.96 L552.70,513.04 L554.20,513.13 L555.00,513.17" stroke="#2a2a2a" stroke-width="1.5" fill="none"/>
<path d="M90.70,671.71 L92.20,671.41 L93.70,671.09 L95.20,670.75 L96.70,670.39 L98.20,670.01 L99.70,669.61 L101.20,669.19 L102.70,668.76 L104.20,668.30 L105.70,667.83 L107.20,667.33 L108.70,666.82 L110.20,666.30 L111.70,665.76 L113.20,665.20 L114.70,664.62 L116.20,664.03 L117.70,663.43 L119.20,662.81 L120.70,662.17 L122.20,661.52 L123.70,660.86 L125.20,660.19 L126.70,659.50 L128.20,658.80 L129.70,658.08 L131.20,657.36 L132.70,656.62 L134.20,655.88 L135.70,655.12 L137.20,654.35 L138.70,653.57 L140.20,652.79 L141.70,651.99 L143.20,651.19 L144.70,650.37 L146.20,649.55 L147.70,648.72 L149.20,647.89 L150.70,647.05 L152.20,646.20 L153.70,645.34 L155.20,644.48 L156.70,643.61 L158.20,642.74 L159.70,641.87 L161.20,640.99 L162.70,640.10 L164.20,639.21 L165.70,638.32 L167.20,637.43 L168.70,636.54 L170.20,635.64 L171.70,634.74 L173.20,633.84 L174.70,632.94 L176.20,632.03 L177.70,631.13 L179.20,630.23 L180.70,629.33 L182.20,628.43 L183.70,627.53 L185.20,626.63 L186.70,625.74 L188.20,624.85 L189.70,623.96 L191.20,623.07 L192.70,622.19 L194.20,621.31 L195.70,620.44 L197.20,619.57 L198.70,618.70 L200.20,617.85 L201.70,616.99 L203.20,616.15 L204.70,615.31 L206.20,614.47 L207.70,613.64 L209.20,612.82 L210.70,612.00 L212.20,611.19 L213.70,610.38 L215.20,609.58 L216.70,608.78 L218.20,607.99 L219.70,607.21 L221.20,606.43 L222.70,605.65 L224.20,604.89 L225.70,604.12 L227.20,603.36 L228.70,602.61 L230.20,601.87 L231.70,601.12 L233.20,600.39 L234.70,599.66 L236.20,598.93 L237.70,598.21 L239.20,597.50 L240.70,596.79 L242.20,596.08 L243.70,595.38 L245.20,594.69 L246.70,594.00 L248.20,593.31 L249.70,592.63 L251.20,591.96 L252.70,591.29 L254.20,590.62 L255.70,589.96 L257.20,589.31 L258.70,588.66 L260.20,588.01 L261.70,587.37 L263.20,586.74 L264.70,586.11 L266.20,585.48 L267.70,584.86 L269.20,584.24 L270.70,583.63 L272.20,583.02 L273.70,582.42 L275.20,581.82 L276.70,581.23 L278.20,580.64 L279.70,580.05 L281.20,579.47 L282.70,578.89 L284.20,578.32 L285.70,577.76 L287.20,577.19 L288.70,576.63 L290.20,576.08 L291.70,575.53 L293.20,574.98 L294.70,574.44 L296.20,573.90 L297.70,573.37 L299.20,572.84 L300.70,572.32 L302.20,571.80 L303.70,571.28 L305.20,570.77 L306.70,570.26 L308.20,569.75 L309.70,569.25 L311.20,568.76 L312.70,568.26 L314.20,567.77 L315.70,567.29 L317.20,566.81 L318.70,566.33 L320.20,565.86 L321.70,565.39 L323.20,564.92 L324.70,564.46 L326.20,564.00 L327.70,563.54 L329.20,563.09 L330.70,562.65 L332.20,562.20 L333.70,561.76 L335.20,561.32 L336.70,560.89 L338.20,560.46 L339.70,560.03 L341.20,559.61 L342.70,559.19 L344.20,558.77 L345.70,558.36 L347.20,557.95 L348.70,557.54 L350.20,557.14 L351.70,556.74 L353.20,556.34 L354.70,555.95 L356.20,555.56 L357.70,555.17 L359.20,554.78 L360.70,554.40 L362.20,554.02 L363.70,553.65 L365.20,553.28 L366.70,552.91 L368.20,552.54 L369.70,552.18 L371.20,551.82 L372.70,551.46 L374.20,551.11 L375.70,550.75 L377.20,550.40 L378.70,550.06 L380.20,549.71 L381.70,549.37 L383.20,549.03 L384.70,548.70 L386.20,548.37 L387.70,548.04 L389.20,547.71 L390.70,547.38 L392.20,547.06 L393.70,546.74 L395.20,546.43 L396.70,546.11 L398.20,545.80 L399.70,545.49 L401.20,545.19 L402.70,544.89 L404.20,544.59 L405.70,544.29 L407.20,543.99 L408.70,543.70 L410.20,543.41 L411.70,543.13 L413.20,542.84 L414.70,542.56 L416.20,542.29 L417.70,542.01 L419.20,541.74 L420.70,541.47 L422.20,541.20 L423.70,540.94 L425.20,540.67 L426.70,540.42 L428.20,540.16 L429.70,539.91 L431.20,539.66 L432.70,539.41 L434.20,539.16 L435.70,538.92 L437.20,538.68 L438.70,538.44 L440.20,538.21 L441.70,537.98 L443.20,537.75 L444.70,537.53 L446.20,537.30 L447.70,537.08 L449.20,536.87 L450.70,536.65 L452.20,536.44 L453.70,536.23 L455.20,536.02 L456.70,535.82 L458.20,535.62 L459.70,535.42 L461.20,535.23 L462.70,535.03 L464.20,534.84 L465.70,534.66 L467.20,534.47 L468.70,534.29 L470.20,534.11 L471.70,533.94 L473.20,533.76 L474.70,533.59 L476.20,533.43 L477.70,533.26 L479.20,533.10 L480.70,532.94 L482.20,532.78 L483.70,532.63 L485.20,532.48 L486.70,532.33 L488.20,532.19 L489.70,532.05 L491.20,531.91 L492.70,531.77 L494.20,531.64 L495.70,531.50 L497.20,531.38 L498.70,531.25 L500.20,531.13 L501.70,531.01 L503.20,530.89 L504.70,530.78 L506.20,530.66 L507.70,530.56 L509.20,530.45 L510.70,530.35 L512.20,530.25 L513.70,530.15 L515.20,530.06 L516.70,529.96 L518.20,529.87 L519.70,529.79 L521.20,529.70 L522.70,529.62 L524.20,529.55 L525.70,529.47 L527.20,529.40 L528.70,529.33 L530.20,529.26 L531.70,529.20 L533.20,529.14 L534.70,529.08 L536.20,529.03 L537.70,528.97 L539.20,528.92 L540.70,528.88 L542.20,528.83 L543.70,528.79 L545.20,528.75 L546.70,528.72 L548.20,528.69 L549.70,528.66 L551.20,528.63 L552.70,528.61 L554.20,528.59 L555.00,528.58" stroke="#2a2a2a" stroke-width="1.5" fill="none"/>
<path d="M90.70,677.33 L92.20,677.33 L93.70,677.33 L95.20,677.32 L96.70,677.32 L98.20,677.31 L99.70,677.31 L101.20,677.30 L102.70,677.29 L104.20,677.28 L105.70,677.27 L107.20,677.25 L108.70,677.23 L110.20,677.21 L111.70,677.18 L113.20,677.14 L114.70,677.10 L116.20,677.05 L117.70,676.98 L119.20,676.90 L120.70,676.81 L122.20,676.69 L123.70,676.55 L125.20,676.38 L126.70,676.18 L128.20,675.93 L129.70,675.64 L131.20,675.29 L132.70,674.87 L134.20,674.39 L135.70,673.82 L137.20,673.16 L138.70,672.41 L140.20,671.55 L141.70,670.60 L143.20,669.55 L144.70,668.42 L146.20,667.21 L147.70,665.95 L149.20,664.66 L150.70,663.37 L152.20,662.10 L153.70,660.88 L155.20,659.72 L156.70,658.65 L158.20,657.67 L159.70,656.79 L161.20,656.01 L162.70,655.32 L164.20,654.73 L165.70,654.22 L167.20,653.79 L168.70,653.42 L170.20,653.12 L171.70,652.86 L173.20,652.64 L174.70,652.46 L176.20,652.32 L177.70,652.19 L179.20,652.09 L180.70,652.01 L182.20,651.94 L183.70,651.89 L185.20,651.84 L186.70,651.80 L188.20,651.77 L189.70,651.75 L191.20,651.72 L192.70,651.71 L194.20,651.69 L195.70,651.68 L197.20,651.67 L198.70,651.67 L200.20,651.66 L201.70,651.65 L203.20,651.65 L204.70,651.65 L206.20,651.64 L207.70,651.64 L209.20,651.64 L210.70,651.64 L212.20,651.64 L213.70,651.64 L215.20,651.63 L216.70,651.63 L218.20,651.63 L219.70,651.63 L221.20,651.63 L222.70,651.63 L224.20,651.63 L225.70,651.63 L227.20,651.63 L228.70,651.63 L230.20,651.63 L231.70,651.63 L233.20,651.63 L234.70,651.63 L236.20,651.63 L237.70,651.63 L239.20,651.63 L240.70,651.63 L242.20,651.63 L243.70,651.63 L245.20,651.63 L246.70,651.63 L248.20,651.63 L249.70,651.63 L251.20,651.63 L252.70,651.63 L254.20,651.63 L255.70,651.63 L257.20,651.63 L258.70,651.63 L260.20,651.63 L261.70,651.63 L263.20,651.63 L264.70,651.63 L266.20,651.63 L267.70,651.63 L269.20,651.63 L270.70,651.63 L272.20,651.63 L273.70,651.63 L275.20,651.63 L276.70,651.63 L278.20,651.63 L279.70,651.63 L281.20,651.63 L282.70,651.63 L284.20,651.63 L285.70,651.63 L287.20,651.63 L288.70,651.63 L290.20,651.63 L291.70,651.63 L293.20,651.63 L294.70,651.63 L296.20,651.63 L297.70,651.63 L299.20,651.63 L300.70,651.63 L302.20,651.63 L303.70,651.63 L305.20,651.63 L306.70,651.63 L308.20,651.63 L309.70,651.63 L311.20,651.63 L312.70,651.63 L314.20,651.63 L315.70,651.63 L317.20,651.63 L318.70,651.63 L320.20,651.63 L321.70,651.63 L323.20,651.63 L324.70,651.63 L326.20,651.63 L327.70,651.63 L329.20,651.63 L330.70,651.63 L332.20,651.63 L333.70,651.63 L335.20,651.63 L336.70,651.63 L338.20,651.63 L339.70,651.63 L341.20,651.63 L342.70,651.63 L344.20,651.63 L345.70,651.63 L347.20,651.63 L348.70,651.63 L350.20,651.63 L351.70,651.63 L353.20,651.63 L354.70,651.63 L356.20,651.63 L357.70,651.63 L359.20,651.63 L360.70,651.63 L362.20,651.63 L363.70,651.63 L365.20,651.63 L366.70,651.63 L368.20,651.63 L369.70,651.63 L371.20,651.63 L372.70,651.63 L374.20,651.63 L375.70,651.63 L377.20,651.63 L378.70,651.63 L380.20,651.63 L381.70,651.63 L383.20,651.63 L384.70,651.63 L386.20,651.63 L387.70,651.63 L389.20,651.63 L390.70,651.63 L392.20,651.63 L393.70,651.63 L395.20,651.63 L396.70,651.63 L398.20,651.63 L399.70,651.63 L401.20,651.63 L402.70,651.63 L404.20,651.63 L405.70,651.63 L407.20,651.63 L408.70,651.63 L410.20,651.63 L411.70,651.63 L413.20,651.63 L414.70,651.63 L416.20,651.63 L417.70,651.63 L419.20,651.63 L420.70,651.63 L422.20,651.63 L423.70,651.63 L425.20,651.63 L426.70,651.63 L428.20,651.63 L429.70,651.63 L431.20,651.63 L432.70,651.63 L434.20,651.63 L435.70,651.63 L437.20,651.63 L438.70,651.63 L440.20,651.63 L441.70,651.63 L443.20,651.63 L444.70,651.63 L446.20,651.63 L447.70,651.63 L449.20,651.63 L450.70,651.63 L452.20,651.63 L453.70,651.63 L455.20,651.63 L456.70,651.63 L458.20,651.63 L459.70,651.63 L461.20,651.63 L462.70,651.63 L464.20,651.63 L465.70,651.63 L467.20,651.63 L468.70,651.63 L470.20,651.63 L471.70,651.63 L473.20,651.63 L474.70,651.63 L476.20,651.63 L477.70,651.63 L479.20,651.63 L480.70,651.63 L482.20,651.63 L483.70,651.63 L485.20,651.63 L486.70,651.63 L488.20,651.63 L489.70,651.63 L491.20,651.63 L492.70,651.63 L494.20,651.63 L495.70,651.63 L497.20,651.63 L498.70,651.63 L500.20,651.63 L501.70,651.63 L503.20,651.63 L504.70,651.63 L506.20,651.63 L507.70,651.63 L509.20,651.63 L510.70,651.63 L512.20,651.63 L513.70,651.63 L515.20,651.63 L516.70,651.63 L518.20,651.63 L519.70,651.63 L521.20,651.63 L522.70,651.63 L524.20,651.63 L525.70,651.63 L527.20,651.63 L528.70,651.63 L530.20,651.63 L531.70,651.63 L533.20,651.63 L534.70,651.63 L536.20,651.63 L537.70,651.63 L539.20,651.63 L540.70,651.63 L542.20,651.63 L543.70,651.63 L545.20,651.63 L546.70,651.63 L548.20,651.63 L549.70,651.63 L551.20,651.63 L552.70,651.63 L554.20,651.63" stroke="#2a2a2a" stroke-width="1.5" fill="none"/>
<path d="M90.70,405.80 V412.00 M85.70,405.80 H95.70 M85.70,412.00 H95.70" stroke="#000" stroke-width="1.4" fill="none"/>
<rect x="86.80" y="405.00" width="7.8" height="7.8" fill="#000"/>
<path d="M109.28,412.60 V419.00 M104.28,412.60 H114.28 M104.28,419.00 H114.28" stroke="#000" stroke-width="1.4" fill="none"/>
<rect x="105.38" y="411.90" width="7.8" height="7.8" fill="#000"/>
<path d="M127.86,420.60 V426.40 M122.86,420.60 H132.86 M122.86,426.40 H132.86" stroke="#000" stroke-width="1.4" fill="none"/>
<rect x="123.96" y="419.60" width="7.8" height="7.8" fill="#000"/>
<path d="M146.44,420.30 V426.30 M141.44,420.30 H151.44 M141.44,426.30 H151.44" stroke="#000" stroke-width="1.4" fill="none"/>
<rect x="142.54" y="419.40" width="7.8" height="7.8" fill="#000"/>
<path d="M165.02,433.50 V439.50 M160.02,433.50 H170.02 M160.02,439.50 H170.02" stroke="#000" stroke-width="1.4" fill="none"/>
<rect x="161.12" y="432.60" width="7.8" height="7.8" fill="#000"/>
<path d="M183.60,436.10 V442.10 M178.60,436.10 H188.60 M178.60,442.10 H188.60" stroke="#000" stroke-width="1.4" fill="none"/>
<rect x="179.70" y="435.20" width="7.8" height="7.8" fill="#000"/>
<path d="M313.66,486.90 V490.90 M308.66,486.90 H318.66 M308.66,490.90 H318.66" stroke="#000" stroke-width="1.4" fill="none"/>
<rect x="309.76" y="485.00" width="7.8" height="7.8" fill="#000"/>
<path d="M341.53,491.00 V495.00 M336.53,491.00 H346.53 M336.53,495.00 H346.53" stroke="#000" stroke-width="1.4" fill="none"/>
<rect x="337.63" y="489.20" width="7.8" height="7.8" fill="#000"/>
<path d="M369.40,499.70 V506.80 M364.40,499.70 H374.40 M364.40,506.80 H374.40" stroke="#000" stroke-width="1.4" fill="none"/>
<rect x="365.50" y="499.40" width="7.8" height="7.8" fill="#000"/>
<path d=" M550.20,508.20 H560.20 M550.20,513.20 H560.20" stroke="#000" stroke-width="1.4" fill="none"/>
<rect x="551.30" y="506.80" width="7.8" height="7.8" fill="#000"/>
<path d="M90.70,677.30 V680.30 M85.70,677.30 H95.70 M85.70,680.30 H95.70" stroke="#000" stroke-width="1.4" fill="none"/>
<circle cx="90.70" cy="678.80" r="4.3" fill="#000"/>
<circle cx="109.28" cy="677.80" r="4.3" fill="#000"/>
<path d="M127.86,672.60 V675.60 M122.86,672.60 H132.86 M122.86,675.60 H132.86" stroke="#000" stroke-width="1.4" fill="none"/>
<circle cx="127.86" cy="674.10" r="4.3" fill="#000"/>
<path d="M146.44,665.50 V668.50 M141.44,665.50 H151.44 M141.44,668.50 H151.44" stroke="#000" stroke-width="1.4" fill="none"/>
<circle cx="146.44" cy="667.00" r="4.3" fill="#000"/>
<path d="M165.02,653.00 V656.00 M160.02,653.00 H170.02 M160.02,656.00 H170.02" stroke="#000" stroke-width="1.4" fill="none"/>
<circle cx="165.02" cy="654.40" r="4.3" fill="#000"/>
<path d="M183.60,646.80 V650.50 M178.60,646.80 H188.60 M178.60,650.50 H188.60" stroke="#000" stroke-width="1.4" fill="none"/>
<circle cx="183.60" cy="648.10" r="4.3" fill="#000"/>
<path d="M313.66,647.40 V650.40 M308.66,647.40 H318.66 M308.66,650.40 H318.66" stroke="#000" stroke-width="1.4" fill="none"/>
<circle cx="313.66" cy="648.90" r="4.3" fill="#000"/>
<path d="M341.53,649.30 V652.30 M336.53,649.30 H346.53 M336.53,652.30 H346.53" stroke="#000" stroke-width="1.4" fill="none"/>
<circle cx="341.53" cy="650.80" r="4.3" fill="#000"/>
<path d="M369.40,654.40 V657.40 M364.40,654.40 H374.40 M364.40,657.40 H374.40" stroke="#000" stroke-width="1.4" fill="none"/>
<circle cx="369.40" cy="655.90" r="4.3" fill="#000"/>
<path d=" M550.20,651.50 H560.20 M550.20,654.50 H560.20" stroke="#000" stroke-width="1.4" fill="none"/>
<circle cx="555.20" cy="653.00" r="4.3" fill="#000"/>
<path d="M90.70,667.50 V671.10 M85.70,667.50 H95.70 M85.70,671.10 H95.70" stroke="#000" stroke-width="1.4" fill="none"/>
<path d="M86.00,666.90 H95.40 L90.70,674.90 Z" fill="#000"/>
<path d="M104.58,663.30 H113.98 L109.28,671.30 Z" fill="#000"/>
<path d="M127.86,659.20 V661.30 M122.86,659.20 H132.86 M122.86,661.30 H132.86" stroke="#000" stroke-width="1.4" fill="none"/>
<path d="M123.16,658.60 H132.56 L127.86,666.60 Z" fill="#000"/>
<path d="M146.44,653.40 V656.20 M141.44,653.40 H151.44 M141.44,656.20 H151.44" stroke="#000" stroke-width="1.4" fill="none"/>
<path d="M141.74,651.80 H151.14 L146.44,659.80 Z" fill="#000"/>
<path d="M165.02,637.00 V642.00 M160.02,637.00 H170.02 M160.02,642.00 H170.02" stroke="#000" stroke-width="1.4" fill="none"/>
<path d="M160.32,636.70 H169.72 L165.02,644.70 Z" fill="#000"/>
<path d="M183.60,624.50 V628.80 M178.60,624.50 H188.60 M178.60,628.80 H188.60" stroke="#000" stroke-width="1.4" fill="none"/>
<path d="M178.90,623.00 H188.30 L183.60,631.00 Z" fill="#000"/>
<path d="M313.66,566.40 V574.40 M308.66,566.40 H318.66 M308.66,574.40 H318.66" stroke="#000" stroke-width="1.4" fill="none"/>
<path d="M308.96,566.50 H318.36 L313.66,574.50 Z" fill="#000"/>
<path d="M341.53,541.50 V566.70 M336.53,541.50 H346.53 M336.53,566.70 H346.53" stroke="#000" stroke-width="1.4" fill="none"/>
<path d="M336.83,550.40 H346.23 L341.53,558.40 Z" fill="#000"/>
<path d="M369.40,558.30 V568.00 M364.40,558.30 H374.40 M364.40,568.00 H374.40" stroke="#000" stroke-width="1.4" fill="none"/>
<path d="M364.70,559.40 H374.10 L369.40,567.40 Z" fill="#000"/>
<path d=" M550.20,512.50 H560.20 M550.20,543.90 H560.20" stroke="#000" stroke-width="1.4" fill="none"/>
<path d="M550.50,524.30 H559.90 L555.20,532.30 Z" fill="#000"/>
<path d="M91.3,697.9 V868.8 M86,697.9 H555.7 V864.3 M86,864.3 H555.7" stroke="#333" stroke-width="1.5" fill="none"/>
<path d="M86,864.30 H91.3" stroke="#333" stroke-width="1.5"/>
<text x="80" y="868.60" text-anchor="end" font-size="12.6" font-family="'Liberation Sans', sans-serif" fill="#111">0.00</text>
<path d="M86,831.02 H91.3" stroke="#333" stroke-width="1.5"/>
<text x="80" y="835.32" text-anchor="end" font-size="12.6" font-family="'Liberation Sans', sans-serif" fill="#111">0.05</text>
<path d="M86,797.74 H91.3" stroke="#333" stroke-width="1.5"/>
<text x="80" y="802.04" text-anchor="end" font-size="12.6" font-family="'Liberation Sans', sans-serif" fill="#111">0.10</text>
<path d="M86,764.46 H91.3" stroke="#333" stroke-width="1.5"/>
<text x="80" y="768.76" text-anchor="end" font-size="12.6" font-family="'Liberation Sans', sans-serif" fill="#111">0.15</text>
<path d="M86,731.18 H91.3" stroke="#333" stroke-width="1.5"/>
<text x="80" y="735.48" text-anchor="end" font-size="12.6" font-family="'Liberation Sans', sans-serif" fill="#111">0.20</text>
<path d="M86,697.90 H91.3" stroke="#333" stroke-width="1.5"/>
<text x="80" y="702.20" text-anchor="end" font-size="12.6" font-family="'Liberation Sans', sans-serif" fill="#111">0.25</text>
<path d="M91.30,864.3 V868.8" stroke="#333" stroke-width="1.5"/>
<text x="91.30" y="886.30" text-anchor="middle" font-size="12.6" font-family="'Liberation Sans', sans-serif" fill="#111">0</text>
<path d="M184.20,864.3 V868.8" stroke="#333" stroke-width="1.5"/>
<text x="184.20" y="886.30" text-anchor="middle" font-size="12.6" font-family="'Liberation Sans', sans-serif" fill="#111">10</text>
<path d="M277.10,864.3 V868.8" stroke="#333" stroke-width="1.5"/>
<text x="277.10" y="886.30" text-anchor="middle" font-size="12.6" font-family="'Liberation Sans', sans-serif" fill="#111">20</text>
<path d="M370.00,864.3 V868.8" stroke="#333" stroke-width="1.5"/>
<text x="370.00" y="886.30" text-anchor="middle" font-size="12.6" font-family="'Liberation Sans', sans-serif" fill="#111">30</text>
<path d="M462.90,864.3 V868.8" stroke="#333" stroke-width="1.5"/>
<text x="462.90" y="886.30" text-anchor="middle" font-size="12.6" font-family="'Liberation Sans', sans-serif" fill="#111">40</text>
<path d="M555.80,864.3 V868.8" stroke="#333" stroke-width="1.5"/>
<text x="555.80" y="886.30" text-anchor="middle" font-size="12.6" font-family="'Liberation Sans', sans-serif" fill="#111">50</text>
<text x="323.8" y="915" text-anchor="middle" font-size="16" font-family="'Liberation Sans', sans-serif" fill="#111">Cultivation time [h]</text>
<text x="-0.5" y="682.5" font-size="18" font-weight="bold" font-family="'Liberation Sans', sans-serif" fill="#000">c</text>
<text transform="translate(21,869.2) rotate(-90)" font-size="15.6" font-family="'Liberation Sans', sans-serif" fill="#111">sp. rhamnolipid prod. rate</text>
<text transform="translate(41,846.8) rotate(-90)" font-size="15.7" font-family="'Liberation Sans', sans-serif" fill="#111">q<tspan font-size="10.2" dy="5.7">RL</tspan><tspan font-size="10.2" dy="-13.7">max</tspan><tspan dy="8"> [g</tspan><tspan font-size="10.2" dy="-7.8">RL</tspan><tspan dy="7.8">/(g</tspan><tspan font-size="10.2" dy="-7.8">BM</tspan><tspan dy="7.8">*h)]</tspan></text>
<rect x="356.7" y="712.8" width="184.4" height="52.4" stroke="#333" stroke-width="1.5" fill="none"/>
<g fill="#000"><rect x="364.50" y="729.60" width="2.2" height="2.2"/><rect x="370.34" y="729.60" width="2.2" height="2.2"/><rect x="376.18" y="729.60" width="2.2" height="2.2"/><rect x="382.02" y="729.60" width="2.2" height="2.2"/><rect x="387.86" y="729.60" width="2.2" height="2.2"/><rect x="393.70" y="729.60" width="2.2" height="2.2"/><rect x="399.54" y="729.60" width="2.2" height="2.2"/><rect x="405.38" y="729.60" width="2.2" height="2.2"/><rect x="411.22" y="729.60" width="2.2" height="2.2"/></g>
<path d="M365.4,747.4 H382.9 M389.7,747.4 H407.4" stroke="#000" stroke-width="1.8"/>
<text x="426.5" y="733.0" font-size="11.8" font-family="'Liberation Sans', sans-serif" fill="#111">q<tspan font-size="8" dy="3.6">RL</tspan><tspan dy="-3.6"> at 30°C [g/(g*h)]</tspan></text>
<text x="426.5" y="749.5" font-size="11.8" font-family="'Liberation Sans', sans-serif" fill="#111">q<tspan font-size="8" dy="3.6">RL</tspan><tspan dy="-3.6"> at 37°C [g/(g*h)]</tspan></text>
<path d="M110.00,845.50 L110.23,844.74 L110.52,843.76 L110.87,842.59 L111.26,841.28 L111.68,839.87 L112.13,838.37 L112.58,836.84 L113.04,835.30 L113.48,833.79 L113.90,832.35 L114.28,831.02 L114.62,829.82 L114.90,828.80 M116.40,821.50 L116.63,820.48 L116.89,819.31 L117.18,818.01 L117.50,816.63 L117.83,815.17 L118.17,813.68 L118.51,812.17 L118.85,810.68 L119.18,809.23 L119.48,807.85 L119.76,806.57 L120.00,805.41 L120.20,804.40 M121.00,797.50 L121.15,796.48 L121.34,795.31 L121.55,794.01 L121.77,792.61 L122.01,791.13 L122.26,789.62 L122.51,788.09 L122.76,786.58 L123.01,785.10 L123.24,783.70 L123.45,782.40 L123.64,781.22 L123.80,780.20 M124.80,773.20 L124.99,772.17 L125.21,770.99 L125.47,769.68 L125.75,768.27 L126.04,766.79 L126.35,765.26 L126.65,763.72 L126.96,762.20 L127.25,760.72 L127.53,759.31 L127.79,758.00 L128.01,756.82 L128.20,755.80 M129.20,748.90 L129.40,747.87 L129.64,746.67 L129.91,745.34 L130.21,743.90 L130.52,742.40 L130.85,740.84 L131.18,739.28 L131.51,737.73 L131.83,736.23 L132.13,734.81 L132.42,733.49 L132.68,732.31 L132.90,731.30 M134.50,725.00 L134.60,724.58 L134.70,724.17 L134.79,723.77 L134.88,723.39 L134.96,723.01 L135.05,722.64 L135.13,722.28 L135.21,721.92 L135.30,721.56 L135.39,721.20 L135.49,720.84 L135.59,720.47 L135.70,720.10 L135.82,719.72 L135.94,719.32 L136.08,718.91 L136.21,718.50 L136.35,718.09 L136.50,717.68 L136.64,717.27 L136.79,716.88 L136.93,716.50 L137.08,716.14 L137.22,715.80 L137.36,715.49 L137.50,715.20 L137.63,714.94 L137.77,714.71 L137.90,714.50 L138.02,714.31 L138.15,714.14 L138.28,713.98 L138.41,713.84 L138.54,713.70 L138.67,713.57 L138.80,713.45 L138.93,713.33 L139.06,713.22 L139.20,713.10 L139.34,712.98 L139.48,712.87 L139.62,712.76 L139.77,712.65 L139.91,712.55 L140.06,712.46 L140.20,712.38 L140.35,712.30 L140.50,712.24 L140.65,712.19 L140.80,712.14 L140.95,712.11 L141.10,712.10 L141.25,712.10 L141.40,712.11 L141.55,712.14 L141.70,712.17 L141.86,712.22 L142.01,712.28 L142.16,712.35 L142.32,712.42 L142.47,712.51 L142.63,712.60 L142.79,712.69 L142.94,712.79 L143.10,712.90 L143.26,713.00 L143.41,713.09 L143.56,713.18 L143.71,713.27 L143.86,713.36 L144.01,713.47 L144.16,713.59 L144.32,713.73 L144.48,713.89 L144.65,714.09 L144.83,714.32 L145.01,714.59 L145.20,714.90 M148.20,721.70 L148.58,722.72 L149.02,723.90 L149.49,725.22 L150.00,726.63 L150.53,728.12 L151.08,729.65 L151.62,731.20 L152.16,732.73 L152.68,734.21 L153.18,735.62 L153.63,736.92 L154.05,738.09 L154.40,739.10 M156.60,745.50 L156.95,746.52 L157.37,747.69 L157.83,749.01 L158.33,750.43 L158.85,751.93 L159.40,753.47 L159.94,755.03 L160.48,756.58 L161.00,758.08 L161.50,759.52 L161.95,760.85 L162.36,762.06 L162.70,763.10 M164.60,770.30 L165.00,771.33 L165.49,772.51 L166.03,773.82 L166.63,775.22 L167.26,776.69 L167.92,778.21 L168.59,779.73 L169.26,781.24 L169.91,782.71 L170.53,784.11 L171.12,785.41 L171.64,786.58 L172.10,787.60 M175.50,794.50 L176.09,795.53 L176.78,796.72 L177.56,798.04 L178.40,799.46 L179.29,800.95 L180.20,802.49 L181.13,804.04 L182.06,805.58 L182.96,807.07 L183.83,808.49 L184.63,809.80 L185.36,810.98 L186.00,812.00 M190.70,818.60 L191.60,819.57 L192.68,820.69 L193.89,821.94 L195.20,823.29 L196.60,824.70 L198.05,826.15 L199.52,827.61 L200.97,829.05 L202.39,830.45 L203.74,831.77 L205.00,832.99 L206.13,834.08 L207.10,835.00 M213.70,840.30 L214.75,840.91 L216.00,841.60 L217.41,842.36 L218.93,843.17 L220.54,844.01 L222.19,844.86 L223.83,845.70 L225.44,846.52 L226.97,847.29 L228.38,848.01 L229.63,848.64 L230.68,849.18 L231.50,849.60 " stroke="#000" stroke-width="1.8" fill="none" stroke-linecap="butt" stroke-linejoin="round"/>
<g fill="#000"><rect x="118.00" y="851.10" width="2.2" height="2.2"/><rect x="121.50" y="845.30" width="2.2" height="2.2"/><rect x="124.20" y="839.60" width="2.2" height="2.2"/><rect x="126.70" y="833.70" width="2.2" height="2.2"/><rect x="128.90" y="828.00" width="2.2" height="2.2"/><rect x="130.70" y="822.30" width="2.2" height="2.2"/><rect x="132.60" y="816.50" width="2.2" height="2.2"/><rect x="134.60" y="810.90" width="2.2" height="2.2"/><rect x="136.20" y="805.30" width="2.2" height="2.2"/><rect x="138.00" y="799.70" width="2.2" height="2.2"/><rect x="139.80" y="793.90" width="2.2" height="2.2"/><rect x="141.80" y="788.00" width="2.2" height="2.2"/><rect x="143.80" y="782.30" width="2.2" height="2.2"/><rect x="146.00" y="776.50" width="2.2" height="2.2"/><rect x="148.90" y="770.90" width="2.2" height="2.2"/><rect x="154.10" y="765.70" width="2.2" height="2.2"/><rect x="159.60" y="766.20" width="2.2" height="2.2"/><rect x="163.50" y="770.40" width="2.2" height="2.2"/><rect x="167.90" y="776.90" width="2.2" height="2.2"/><rect x="172.30" y="782.80" width="2.2" height="2.2"/><rect x="176.20" y="788.70" width="2.2" height="2.2"/><rect x="179.70" y="794.40" width="2.2" height="2.2"/><rect x="183.70" y="800.10" width="2.2" height="2.2"/><rect x="187.60" y="805.80" width="2.2" height="2.2"/><rect x="192.00" y="811.50" width="2.2" height="2.2"/><rect x="196.80" y="817.10" width="2.2" height="2.2"/><rect x="202.80" y="822.80" width="2.2" height="2.2"/><rect x="208.20" y="827.80" width="2.2" height="2.2"/><rect x="214.10" y="832.00" width="2.2" height="2.2"/><rect x="219.90" y="835.50" width="2.2" height="2.2"/><rect x="225.80" y="839.00" width="2.2" height="2.2"/><rect x="231.60" y="841.90" width="2.2" height="2.2"/><rect x="237.40" y="844.80" width="2.2" height="2.2"/><rect x="243.00" y="847.00" width="2.2" height="2.2"/><rect x="248.90" y="848.70" width="2.2" height="2.2"/><rect x="254.70" y="850.70" width="2.2" height="2.2"/><rect x="260.20" y="852.40" width="2.2" height="2.2"/><rect x="266.10" y="853.80" width="2.2" height="2.2"/><rect x="271.90" y="854.80" width="2.2" height="2.2"/></g>
</svg></body></html>
